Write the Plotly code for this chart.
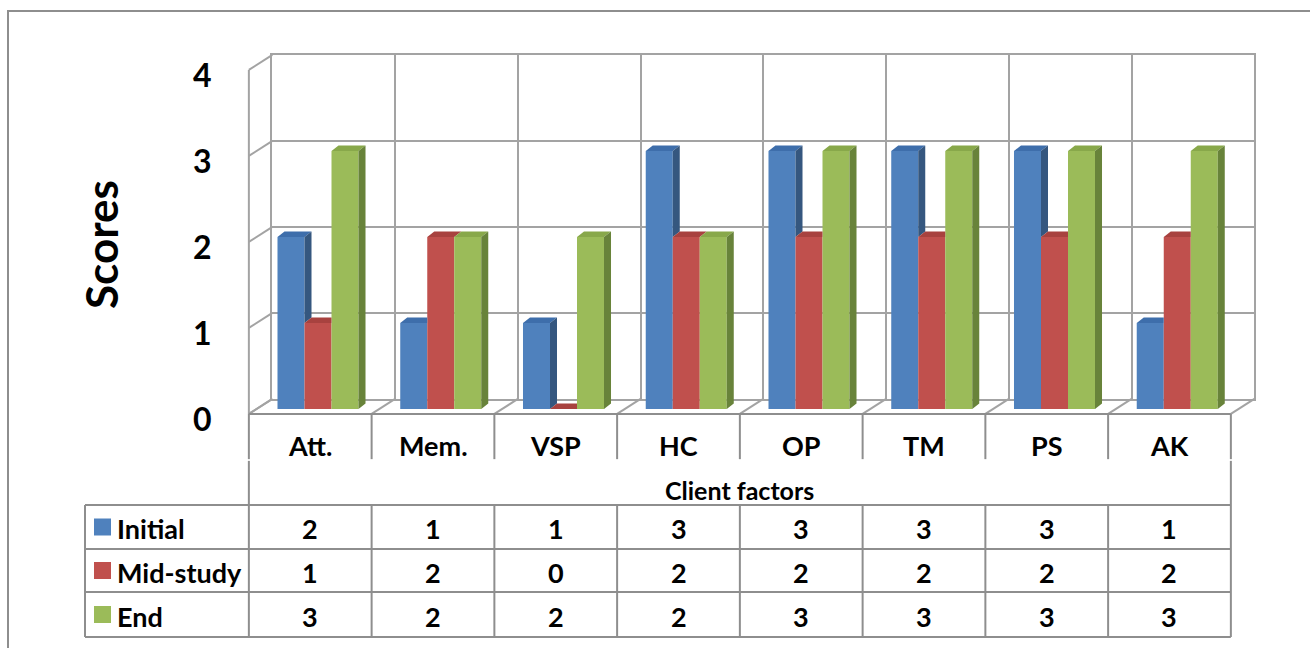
import plotly.graph_objects as go

# ---- data -------------------------------------------------------------
categories = ["Att.", "Mem.", "VSP", "HC", "OP", "TM", "PS", "AK"]
series_names = ["Initial", "Mid-study", "End"]
initial = [2, 1, 1, 3, 3, 3, 3, 1]
mid_study = [1, 2, 0, 2, 2, 2, 2, 2]
end = [3, 2, 2, 2, 3, 3, 3, 3]
score_ticks = [0, 1, 2, 3, 4]
x_title = "Client factors"
y_title = "Scores"

series_values = [initial, mid_study, end]
front_colors = ["#4F81BD", "#C0504D", "#9BBB59"]
top_colors = ["#3E6EAB", "#A8423F", "#88A84A"]
side_colors = ["#35577F", "#8A3634", "#68833A"]

# ---- page geometry -----------------------------------------------------
W, H = 1310, 648
U = 122.75          # pixels per category
V = 86.0            # pixels per score unit
CX0 = 318.0         # centre of the first bar group (px)
PY0 = 409.0         # baseline of the bars (px)
DEPTH_X, DEPTH_Y = 23.5, 15.0    # front-to-back offset of the 3-D box (px)
F = 0.33            # bars sit this far back inside the box
BAR_DX, BAR_DY = 7.0, 5.5        # bar thickness (px)
BARGAP = 0.34

n = len(categories)
ymax = score_ticks[-1]


def xd(px):
    return (px - CX0) / U


def yd(py):
    return (PY0 - py) / V


dX, dY = DEPTH_X / U, DEPTH_Y / V
bdx, bdy = BAR_DX / U, BAR_DY / V


def front(x, y):
    return x - F * dX, y - F * dY


def back(x, y):
    return x + (1 - F) * dX, y + (1 - F) * dY


GRID = "#A3A3A3"
LINE = "#8E8E8E"
FONT = "Lato"

fig = go.Figure()

# ---- back wall (own subplot so its grid sits behind everything) --------
bx0 = CX0 + (-0.5 + (1 - F) * dX) * U
bx1 = bx0 + n * U
by0 = PY0 - (1 - F) * DEPTH_Y
by1 = by0 - ymax * V
fig.add_trace(go.Scatter(x=[0], y=[0], xaxis="x", yaxis="y", mode="markers",
                         marker=dict(opacity=0), hoverinfo="skip", showlegend=False))

# ---- side wall and floor lines -----------------------------------------
lx, ly = [], []
for v in score_ticks:
    a, b = front(-0.5, v), back(-0.5, v)
    lx += [a[0], b[0], None]
    ly += [a[1], b[1], None]
a, b = front(-0.5, 0), front(-0.5, ymax)
lx += [a[0], b[0], None]
ly += [a[1], b[1], None]
for i in range(n + 1):
    a, b = front(i - 0.5, 0), back(i - 0.5, 0)
    lx += [a[0], b[0], None]
    ly += [a[1], b[1], None]
fig.add_trace(go.Scatter(x=lx, y=ly, xaxis="x2", yaxis="y2", mode="lines",
                         line=dict(color=GRID, width=2), hoverinfo="skip",
                         showlegend=False))

# ---- bars (front faces) ------------------------------------------------
idx = list(range(n))
for name, vals, col in zip(series_names, series_values, front_colors):
    fig.add_trace(go.Bar(x=idx, y=vals, name=name, xaxis="x2", yaxis="y2",
                         marker=dict(color=col, line=dict(width=0)),
                         showlegend=False))

# ---- bar tops and sides (only the visible parts) -----------------------
bw = (1 - BARGAP) / len(series_values)
for s, vals in enumerate(series_values):
    tx, ty, sx, sy = [], [], [], []
    for i, v in enumerate(vals):
        xl = i - (1 - BARGAP) / 2 + s * bw
        xr = xl + bw
        nxt = series_values[s + 1][i] if s + 1 < len(series_values) else 0
        right_top = xr if (s + 1 < len(series_values) and nxt > v) else xr + bdx
        tx += [xl, xl + bdx, right_top, xr, xl, None]
        ty += [v, v + bdy, v + bdy, v, v, None]
        if v > nxt:
            sx += [xr, xr, xr + bdx, xr + bdx, xr, None]
            sy += [nxt, v, v + bdy, nxt + bdy, nxt, None]
    fig.add_trace(go.Scatter(x=tx, y=ty, xaxis="x2", yaxis="y2", mode="lines",
                             fill="toself", fillcolor=top_colors[s],
                             line=dict(width=0), hoverinfo="skip", showlegend=False))
    if sx:
        fig.add_trace(go.Scatter(x=sx, y=sy, xaxis="x2", yaxis="y2", mode="lines",
                                 fill="toself", fillcolor=side_colors[s],
                                 line=dict(width=0), hoverinfo="skip",
                                 showlegend=False))

# ---- data table ----------------------------------------------------------
col_x = [front(i - 0.5, 0)[0] for i in range(n + 1)]
y_head_top = front(0, 0)[1]
y_head_bot = yd(460)
y_rows = [yd(505), yd(549), yd(592), yd(637)]
x_leg = xd(85)

tx, ty = [], []
# header row
tx += [col_x[0], col_x[-1], None]
ty += [y_head_top, y_head_top, None]
for cx in col_x:
    tx += [cx, cx, None]
    ty += [y_head_top, y_head_bot + 0.01, None]
# title row sides
for cx in (col_x[0], col_x[-1]):
    tx += [cx, cx, None]
    ty += [y_head_bot - 0.01, y_rows[0], None]
# value rows
for yr in y_rows:
    tx += [x_leg, col_x[-1], None]
    ty += [yr, yr, None]
for cx in [x_leg] + col_x:
    tx += [cx, cx, None]
    ty += [y_rows[0], y_rows[-1], None]
fig.add_trace(go.Scatter(x=tx, y=ty, xaxis="x2", yaxis="y2", mode="lines",
                         line=dict(color=LINE, width=2), hoverinfo="skip",
                         showlegend=False))

row_mid = [(y_rows[k] + y_rows[k + 1]) / 2 for k in range(len(series_values))]
fig.add_trace(go.Scatter(x=[xd(102.5)] * len(series_values), y=row_mid,
                         xaxis="x2", yaxis="y2", mode="markers",
                         marker=dict(symbol="square", size=17, color=front_colors,
                                     line=dict(width=0)),
                         hoverinfo="skip", showlegend=False))

annotations = []
cell_font = dict(family=FONT, size=27, color="black", weight="bold")
for i, cat in enumerate(categories):
    cx = (col_x[i] + col_x[i + 1]) / 2
    annotations.append(dict(x=cx, y=yd(445), xref="x2", yref="y2", text=cat,
                            showarrow=False, font=cell_font))
    for s, vals in enumerate(series_values):
        annotations.append(dict(x=cx, y=row_mid[s] - 0.02, xref="x2", yref="y2",
                                text=str(vals[i]), showarrow=False, font=cell_font))
for s, name in enumerate(series_names):
    annotations.append(dict(x=xd(115), y=row_mid[s] - 0.02, xref="x2", yref="y2",
                            text=name, showarrow=False, xanchor="left",
                            font=cell_font))
annotations.append(dict(x=(col_x[0] + col_x[-1]) / 2, y=yd(490), xref="x2",
                        yref="y2", text=x_title, showarrow=False,
                        font=dict(family=FONT, size=25, color="black", weight="bold")))
annotations.append(dict(x=xd(101), y=yd(245), xref="x2", yref="y2", text=y_title,
                        textangle=-90, showarrow=False,
                        font=dict(family=FONT, size=44, color="black", weight="bold")))
# score labels along the front edge of the side wall
for v in score_ticks:
    annotations.append(dict(x=xd(214), y=front(0, v)[1] - 0.05, xref="x2",
                            yref="y2", text=str(v), showarrow=False,
                            xanchor="right",
                            font=dict(family=FONT, size=32, color="black",
                                      weight="bold")))

# ---- layout -----------------------------------------------------------
fig.update_layout(
    width=W, height=H,
    margin=dict(l=0, r=0, t=0, b=0),
    paper_bgcolor="white", plot_bgcolor="rgba(0,0,0,0)",
    barmode="group", bargap=BARGAP, bargroupgap=0,
    showlegend=False,
    annotations=annotations,
    xaxis=dict(domain=[bx0 / W, bx1 / W], range=[0, n], tickvals=list(range(n + 1)),
               showgrid=True, gridcolor=GRID, gridwidth=2, showticklabels=False,
               showline=True, mirror=True, linecolor=GRID, linewidth=2,
               zeroline=False, ticks="", fixedrange=True),
    yaxis=dict(domain=[1 - by0 / H, 1 - by1 / H], range=[0, ymax],
               tickvals=score_ticks, showgrid=True, gridcolor=GRID, gridwidth=2,
               showticklabels=False, showline=True, mirror=True, linecolor=GRID,
               linewidth=2, zeroline=False, ticks="", fixedrange=True),
    xaxis2=dict(domain=[0, 1], range=[xd(0), xd(W)], anchor="y2", visible=False,
                fixedrange=True),
    yaxis2=dict(domain=[0, 1], range=[yd(H), yd(0)], anchor="x2", visible=False,
                fixedrange=True),
    shapes=[dict(type="rect", xref="paper", yref="paper", x0=8 / W, y0=-0.05,
                 x1=1.05, y1=1 - 11 / H, line=dict(color=LINE, width=2),
                 layer="below")],
)

fig.write_html("out.html")
